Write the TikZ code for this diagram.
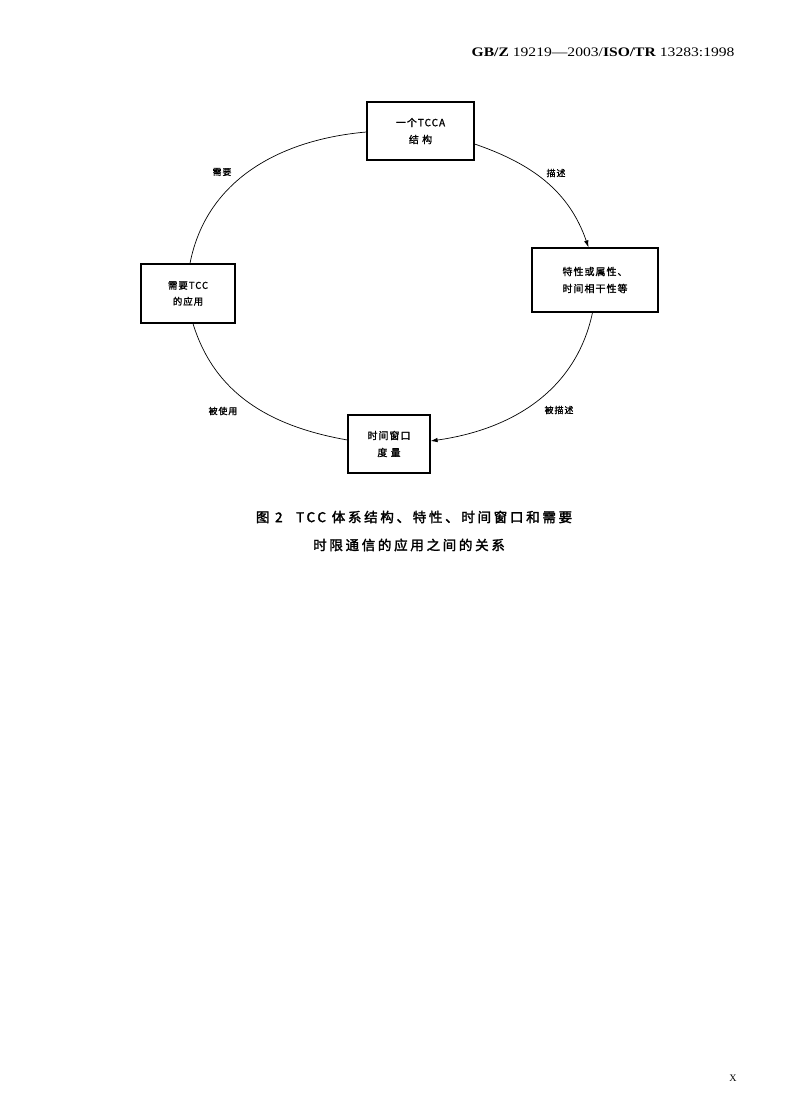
\documentclass[tikz,border=0pt]{standalone}
\usepackage{fontspec}
\setmainfont{Liberation Serif}
\newfontfamily\cjk[LetterSpace=10,FakeBold=1.2]{Noto Sans CJK SC}
\newfontfamily\cjkcap[LetterSpace=20,FakeBold=2]{Noto Sans CJK SC}
\usetikzlibrary{arrows.meta}

\begin{document}
\begin{tikzpicture}[x=1pt,y=-1pt]
        \tikzstyle{every node}=[font=\cjk\fontsize{10}{17}\selectfont]
        \tikzstyle{box}=[draw,line width=1.2pt,inner sep=0pt,align=center]
        \tikzstyle{link}=[line width=0.7pt]
        \tikzstyle{tip}=[-{Latex[length=7pt,width=4.5pt]}]
        \tikzstyle{tag}=[font=\cjk\fontsize{9}{9}\selectfont]
        \tikzstyle{caption}=[font=\cjkcap\fontsize{13.5}{13.5}\selectfont]

        \useasboundingbox (0,0) rectangle (800,1102);

        \node[anchor=east,font=\fontsize{13}{13}\selectfont] (head) at (738,52) {\scalebox{1.2}[1]{\textbf{GB/Z} 19219---2003/\textbf{ISO/TR} 13283:1998}};

        \node[box,minimum width=107pt,minimum height=58pt] (tcca) at (420.5,131) {一个TCCA\\结\ 构};
        \node[box,minimum width=126pt,minimum height=64pt] (props) at (595,280) {特性或属性、\\时间相干性等};
        \node[box,minimum width=82pt,minimum height=58pt] (window) at (389,444) {时间窗口\\度\ 量};
        \node[box,minimum width=94pt,minimum height=59pt,font=\cjk\fontsize{9.5}{16}\selectfont] (app) at (188,293.5) {需要TCC\\的应用};

        \draw[link,tip] ([yshift=-13pt]tcca.east) to[out=-19,in=109] ([xshift=-6.5pt]props.north);
        \draw[link,tip] ([xshift=-2.5pt]props.south) to[out=-102,in=8] ([yshift=3pt]window.east);
        \draw[link] ([yshift=4pt]window.west) to[out=170,in=-73] ([xshift=5pt]app.south);
        \draw[link] ([xshift=2pt]app.north) to[out=79,in=185] ([yshift=-1pt]tcca.west);

        \node[tag] (need) at (222,172) {需要};
        \node[tag] (desc) at (556,173) {描述};
        \node[tag] (described) at (559,410) {被描述};
        \node[tag] (used) at (223,411) {被使用};

        \node[caption] (cap1) at (414,517) {图 2\quad TCC 体系结构、特性、时间窗口和需要};
        \node[caption] (cap2) at (409,545) {时限通信的应用之间的关系};

        \node[font=\fontsize{10}{10}\selectfont] (page) at (733,1078) {X};
\end{tikzpicture}
\end{document}
